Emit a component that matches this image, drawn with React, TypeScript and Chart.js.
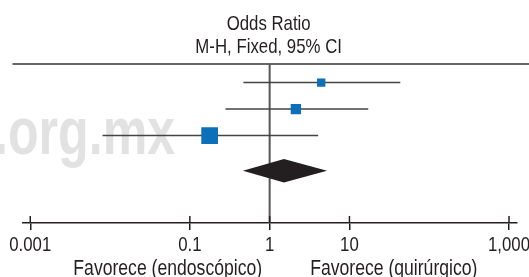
import { useEffect, useRef } from "react";
import { Chart, registerables } from "chart.js";

Chart.register(...registerables);

// ---- data ----
const studies = ["Estudio 1", "Estudio 2", "Estudio 3"];
const oddsRatio = [4.43, 2.13, 0.177];
const ciLower = [0.469, 0.279, 0.00805];
const ciUpper = [43.4, 17.2, 4.06];
const weights = [15.2, 23.3, 61.5];
const totalOR = 1.51;
const totalLower = 0.462;
const totalUpper = 5.24;
const tickValues = [0.001, 0.1, 1, 10, 1000];
const tickLabels = ["0.001", "0.1", "1", "10", "1,000"];
const titleLines = ["Odds Ratio", "M-H, Fixed, 95% CI"];
const favoursLeft = "Favorece (endoscópico)";
const favoursRight = "Favorece (quirúrgico)";
const watermark = ".org.mx";

const FONT = '"Liberation Sans", Arial, Helvetica, sans-serif';
const INK = "#231f20";
const BLUE = "#0b6fba";
const TOTAL_ROW = 4.33;
const NARROW = 0.8;

function narrowText(ctx: CanvasRenderingContext2D, text: string, x: number, y: number, align: CanvasTextAlign, sx = NARROW) {
  ctx.save();
  ctx.translate(x, y);
  ctx.scale(sx, 1);
  ctx.textAlign = align;
  ctx.textBaseline = "alphabetic";
  ctx.fillText(text, 0, 0);
  ctx.restore();
}

const forestPlugin = {
  id: "forest",
  beforeDraw(chart: any) {
    const { ctx } = chart;
    ctx.save();
    ctx.fillStyle = "#e2e2e2";
    ctx.font = `bold 66px ${FONT}`;
    narrowText(ctx, watermark, -6, 154, "left", 0.76);
    ctx.restore();
  },
  beforeDatasetsDraw(chart: any) {
    const { ctx, chartArea, scales } = chart;
    const x = scales.x;
    const y = scales.y;
    ctx.save();
    // top rule
    ctx.strokeStyle = "#333333";
    ctx.lineWidth = 1.5;
    ctx.beginPath();
    ctx.moveTo(12.5, chartArea.top);
    ctx.lineTo(chart.width, chartArea.top);
    ctx.stroke();
    // line of no effect
    const px1 = x.getPixelForValue(1);
    ctx.strokeStyle = "#555555";
    ctx.lineWidth = 2;
    ctx.beginPath();
    ctx.moveTo(px1, chartArea.top);
    ctx.lineTo(px1, chartArea.bottom);
    ctx.stroke();
    // total diamond
    const yc = y.getPixelForValue(TOTAL_ROW);
    const h = 11.8;
    ctx.fillStyle = INK;
    ctx.beginPath();
    ctx.moveTo(x.getPixelForValue(totalLower), yc);
    ctx.lineTo(x.getPixelForValue(totalOR), yc - h);
    ctx.lineTo(x.getPixelForValue(totalUpper), yc);
    ctx.lineTo(x.getPixelForValue(totalOR), yc + h);
    ctx.closePath();
    ctx.fill();
    ctx.restore();
  },
  afterDraw(chart: any) {
    const { ctx, scales } = chart;
    const x = scales.x;
    const px1 = x.getPixelForValue(1);
    ctx.save();
    // upper half of the tick marks
    ctx.strokeStyle = INK;
    ctx.lineWidth = 1.5;
    for (const v of tickValues) {
      const p = x.getPixelForValue(v);
      ctx.beginPath();
      ctx.moveTo(p, x.top - 7);
      ctx.lineTo(p, x.top);
      ctx.stroke();
    }
    ctx.fillStyle = INK;
    ctx.font = `21px ${FONT}`;
    // tick labels
    tickValues.forEach((v, i) => {
      narrowText(ctx, tickLabels[i], x.getPixelForValue(v), 250.5, "center");
    });
    // header
    narrowText(ctx, titleLines[0], px1 - 1, 30, "center");
    narrowText(ctx, titleLines[1], px1 - 1, 52.7, "center");
    // favours labels
    ctx.font = `22px ${FONT}`;
    narrowText(ctx, favoursLeft, px1 - 7.5, 274.7, "right");
    narrowText(ctx, favoursRight, px1 + 40.5, 274.7, "left");
    ctx.restore();
  },
};

export default function App() {
  const ref = useRef<HTMLCanvasElement | null>(null);

  useEffect(() => {
    if (!ref.current) return;
    const rows = studies.map((_, i) => i + 1);
    const ciSets = studies.map((s, i) => ({
      type: "line" as const,
      label: s,
      data: [
        { x: ciLower[i], y: rows[i] },
        { x: ciUpper[i], y: rows[i] },
      ],
      borderColor: "#444444",
      borderWidth: 1.5,
      pointRadius: 0,
      showLine: true,
      order: 1,
    }));
    const radii = weights.map((w) => (2.13 * Math.sqrt(w)) / Math.SQRT2);
    const chart = new Chart(ref.current, {
      type: "scatter",
      data: {
        datasets: [
          {
            label: "OR",
            data: oddsRatio.map((v, i) => ({ x: v, y: rows[i] })),
            pointStyle: "rect",
            pointRadius: radii,
            pointHoverRadius: radii,
            backgroundColor: BLUE,
            borderWidth: 0,
            order: 0,
          } as any,
          ...ciSets,
        ],
      },
      plugins: [forestPlugin],
      options: {
        animation: false,
        responsive: false,
        events: [],
        layout: { padding: { top: 64, left: 22.3, right: 12, bottom: 0 } },
        plugins: { legend: { display: false }, title: { display: false }, tooltip: { enabled: false } },
        scales: {
          x: {
            type: "logarithmic",
            min: Math.pow(10, -3.1),
            max: Math.pow(10, 3.1),
            afterBuildTicks: (s: any) => {
              s.ticks = tickValues.map((v) => ({ value: v, major: true }));
            },
            afterFit: (s: any) => {
              s.height = 54;
            },
            ticks: { display: false, autoSkip: false },
            grid: { drawOnChartArea: false, tickLength: 7, color: INK, lineWidth: 1.5 },
            border: { color: INK, width: 1.5 },
          },
          y: {
            type: "linear",
            display: false,
            reverse: true,
            min: 0.3,
            max: 6.3,
          },
        },
      } as any,
    });
    return () => chart.destroy();
  }, []);

  return (
    <div style={{ position: "fixed", left: 0, top: 0, width: 529, height: 277, background: "#fff" }}>
      <canvas ref={ref} width={529} height={277} style={{ display: "block", width: 529, height: 277 }} />
    </div>
  );
}
